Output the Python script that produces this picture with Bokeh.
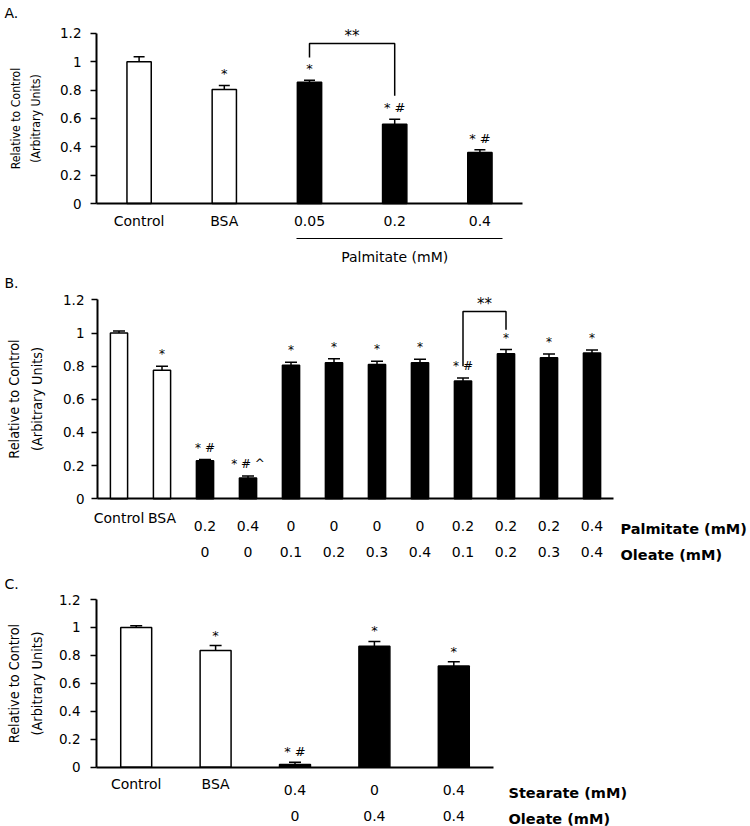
from bokeh.plotting import figure
from bokeh.layouts import column
from bokeh.models import (LinearAxis, FixedTicker, NumeralTickFormatter, Whisker, TeeHead,
                          ColumnDataSource, Range1d)
from bokeh.core.properties import value
from bokeh.embed import file_html
from bokeh.resources import INLINE

# ---------------- data ----------------
y_ticks = [0, 0.2, 0.4, 0.6, 0.8, 1.0, 1.2]
y_label = "Relative to Control\n(Arbitrary Units)"

# Panel A
a_groups = ["Control", "BSA", "0.05", "0.2", "0.4"]
a_values = [1.00, 0.805, 0.855, 0.56, 0.36]
a_errors = [0.035, 0.028, 0.015, 0.035, 0.02]
a_marks = ["", "*", "*", "* #", "* #"]
a_group_label = "Palmitate (mM)"
a_sig = (2, 3, "**")          # compared bars (indices) and label

# Panel B
b_names = ["Control", "BSA"]
b_palmitate = ["", "", "0.2", "0.4", "0", "0", "0", "0", "0.2", "0.2", "0.2", "0.4"]
b_oleate = ["", "", "0", "0", "0.1", "0.2", "0.3", "0.4", "0.1", "0.2", "0.3", "0.4"]
b_values = [1.00, 0.775, 0.23, 0.125, 0.805, 0.82, 0.81, 0.82, 0.71, 0.875, 0.85, 0.88]
b_errors = [0.012, 0.025, 0.007, 0.013, 0.018, 0.025, 0.02, 0.022, 0.018, 0.025, 0.024, 0.018]
b_marks = ["", "*", "* #", "* # ^", "*", "*", "*", "*", "* #", "*", "*", "*"]
b_row_titles = ["Palmitate (mM)", "Oleate (mM)"]
b_sig = (8, 9, "**")

# Panel C
c_names = ["Control", "BSA"]
c_stearate = ["", "", "0.4", "0", "0.4"]
c_oleate = ["", "", "0", "0.4", "0.4"]
c_values = [1.00, 0.835, 0.02, 0.865, 0.725]
c_errors = [0.012, 0.035, 0.015, 0.035, 0.03]
c_marks = ["", "*", "* #", "*", "*"]
c_row_titles = ["Stearate (mM)", "Oleate (mM)"]

TICK_FONT = "DejaVu Sans"
LABEL_FONT = "'DejaVu Sans Condensed', Roboto"
FIG_W = 750
PAGE_X0 = 0


class Geom:
    """Layout of one panel in page pixels."""
    def __init__(self, top, height, axis_x, unit, zero_y, ppu):
        self.top, self.height, self.axis_x, self.unit = top, height, axis_x, unit
        self.zero_y, self.ppu = zero_y, ppu

    def yd(self, dist_px):          # data offset of a pixel distance
        return dist_px / self.ppu

    def xd(self, page_x):
        return (page_x - self.axis_x) / self.unit

    def ya(self, page_y):
        return (self.zero_y - page_y) / self.ppu


def make_panel(title, values, errors, marks, g, *, bar_width, head, ylabel_size,
               ylabel_standoff, ylabel_lh, tick_standoff, mark_size, mark_gap_px, title_top):
    n = len(values)
    pos = [i + 0.5 for i in range(n)]
    zero_fy = g.zero_y - g.top
    p = figure(width=FIG_W, height=g.height,
               x_range=Range1d(g.xd(PAGE_X0), g.xd(PAGE_X0 + FIG_W)),
               y_range=Range1d(-(g.height - zero_fy) / g.ppu, zero_fy / g.ppu),
               x_axis_location=None, y_axis_location=None,
               output_backend="svg", toolbar_location=None)
    p.min_border_left = p.min_border_right = p.min_border_top = p.min_border_bottom = 0
    p.outline_line_color = None
    p.grid.visible = False
    p.background_fill_color = "white"
    p.border_fill_color = "white"

    ya = LinearAxis(fixed_location=0, bounds=(0, 1.2), ticker=FixedTicker(ticks=y_ticks),
                    formatter=NumeralTickFormatter(format="0.[0]"))
    ya.axis_line_color = "black"
    ya.axis_line_width = 2
    ya.major_tick_line_color = "black"
    ya.major_tick_line_width = 1.5
    ya.major_tick_in = 0
    ya.major_tick_out = 6
    ya.minor_tick_line_color = None
    ya.major_label_standoff = tick_standoff
    ya.major_label_text_font = TICK_FONT
    ya.major_label_text_font_size = "13.5px"
    ya.major_label_text_color = "black"
    ya.axis_label = y_label
    ya.axis_label_text_font = LABEL_FONT
    ya.axis_label_text_font_size = ylabel_size
    ya.axis_label_text_font_style = "normal"
    ya.axis_label_text_color = "black"
    ya.axis_label_standoff = ylabel_standoff
    ya.axis_label_text_line_height = ylabel_lh
    p.add_layout(ya, "left")

    fills = ["white" if i < 2 else "black" for i in range(n)]
    src = ColumnDataSource(dict(x=pos, top=values,
                                upper=[v + e for v, e in zip(values, errors)],
                                mark_y=[v + e + g.yd(mark_gap_px) for v, e in zip(values, errors)],
                                mark=marks, fill=fills))
    p.vbar(x="x", top="top", width=bar_width, source=src, fill_color="fill",
           line_color="black", line_width=1.5)
    p.add_layout(Whisker(source=src, base="x", lower="top", upper="upper",
                         line_color="black", line_width=1.5, lower_head=None,
                         upper_head=TeeHead(size=head, line_color="black", line_width=1.5)))
    p.text(x="x", y="mark_y", text="mark", source=src, text_align="center",
           text_baseline="bottom", text_font=value(TICK_FONT),
           text_font_size=mark_size, text_color="black")
    # panel letter
    p.text(x=[g.xd(4)], y=[g.ya(title_top)], text=[title], text_align="left",
           text_baseline="top", text_font=value(TICK_FONT), text_font_size="14px",
           text_color="black")
    return p, pos


def x_axis(p, ticks, labels, standoff, *, loc=0.0, line=False, bounds=None,
           size="14px", line_width=2.0):
    ax = LinearAxis(fixed_location=loc, ticker=FixedTicker(ticks=ticks),
                    major_label_overrides={t: l for t, l in zip(ticks, labels)})
    ax.major_label_standoff = standoff
    ax.major_tick_in = 0
    ax.major_tick_out = 0
    ax.major_tick_line_color = None
    ax.minor_tick_line_color = None
    ax.axis_line_color = "black" if line else None
    ax.axis_line_width = line_width
    ax.major_label_text_font = TICK_FONT
    ax.major_label_text_font_size = size
    ax.major_label_text_color = "black"
    if bounds is not None:
        ax.bounds = bounds
    p.add_layout(ax, "below")
    return ax


def add_bracket(p, g, pos, sig, low_left, level, low_right, size):
    i, j, text = sig
    p.line(x=[pos[i], pos[i], pos[j], pos[j]], y=[low_left, level, level, low_right],
           line_color="black", line_width=1.5)
    p.text(x=[(pos[i] + pos[j]) / 2], y=[level - g.yd(2)], text=[text], text_align="center",
           text_baseline="bottom", text_font=value(TICK_FONT),
           text_font_size=size, text_color="black")


def row_titles(p, g, page_x, titles, dists, size):
    p.text(x=[g.xd(page_x)] * len(titles), y=[-g.yd(d) for d in dists], text=titles,
           text_align="left", text_baseline="middle", text_font=value(TICK_FONT),
           text_font_size=size, text_font_style="bold", text_color="black")


# ---------------- Panel A ----------------
gA = Geom(top=0, height=270, axis_x=96, unit=85.2, zero_y=203, ppu=141.67)
pA, posA = make_panel("A.", a_values, a_errors, a_marks, gA, bar_width=0.285, head=11,
                      ylabel_size="12.2px", ylabel_standoff=14, ylabel_lh=1.4,
                      tick_standoff=9, mark_size="13px", mark_gap_px=4, title_top=4)
x_axis(pA, posA, a_groups, 9, line=True, bounds=(0, len(posA)))
x_axis(pA, [posA[3]], [a_group_label], 10, loc=-gA.yd(35), line=True,
       bounds=(posA[2] - 0.15, posA[4] + 0.27), line_width=1.2)
add_bracket(pA, gA, posA, a_sig, 1.03, 1.13, 0.76, "15px")

# ---------------- Panel B ----------------
gB = Geom(top=270, height=295, axis_x=97, unit=43, zero_y=498.3, ppu=165.8)
pB, posB = make_panel("B.", b_values, b_errors, b_marks, gB, bar_width=0.4, head=12,
                      ylabel_size="14.3px", ylabel_standoff=15, ylabel_lh=1.45,
                      tick_standoff=7, mark_size="12px", mark_gap_px=5, title_top=274)
nb = len(b_names)
x_axis(pB, posB[:nb], b_names, 11, line=True, bounds=(0, len(posB)))
x_axis(pB, posB[nb:], b_palmitate[nb:], 22)
x_axis(pB, posB[nb:], b_oleate[nb:], 48)
row_titles(pB, gB, 620, b_row_titles, [30, 56], "14.5px")
add_bracket(pB, gB, posB, b_sig, 0.80, 1.13, 1.02, "15px")

# ---------------- Panel C ----------------
gC = Geom(top=565, height=261, axis_x=96, unit=79.4, zero_y=766.7, ppu=139.75)
pC, posC = make_panel("C.", c_values, c_errors, c_marks, gC, bar_width=0.39, head=12,
                      ylabel_size="14.3px", ylabel_standoff=11, ylabel_lh=1.45,
                      tick_standoff=10, mark_size="13px", mark_gap_px=3, title_top=575)
nc = len(c_names)
x_axis(pC, posC[:nc], c_names, 9, line=True, bounds=(0, len(posC)))
x_axis(pC, posC[nc:], c_stearate[nc:], 18)
x_axis(pC, posC[nc:], c_oleate[nc:], 44)
row_titles(pC, gC, 508, c_row_titles, [26, 52], "14.5px")

layout = column(pA, pB, pC, spacing=0)
open("out.html", "w").write(file_html(layout, INLINE))
